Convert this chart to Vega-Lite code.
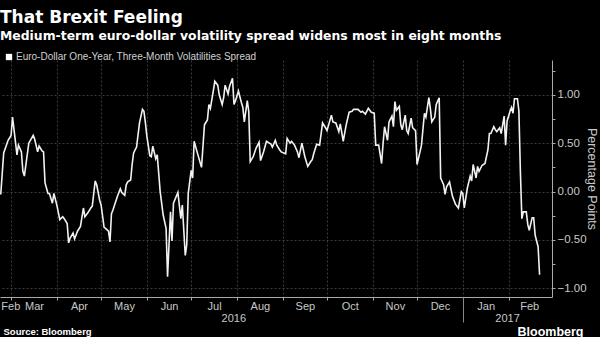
{
  "$schema": "https://vega.github.io/schema/vega-lite/v6.json",
  "width": 552,
  "height": 237,
  "autosize": "none",
  "padding": {"left": 0, "top": 60, "right": 48, "bottom": 40},
  "background": "#000000",
  "config": {
    "view": {"stroke": null},
    "axis": {"labelFont": "Liberation Sans Narrow, Liberation Sans, sans-serif", "labelColor": "#c8c8c8", "labelFontSize": 11}
  },
  "title": {
    "text": "That Brexit Feeling",
    "subtitle": "Medium-term euro-dollar volatility spread widens most in eight months",
    "anchor": "start",
    "frame": "group",
    "font": "DejaVu Sans",
    "fontSize": 17,
    "fontWeight": "bold",
    "color": "#ffffff",
    "subtitleFont": "DejaVu Sans",
    "subtitleFontSize": 12.4,
    "subtitleFontWeight": "bold",
    "subtitleColor": "#ffffff",
    "subtitlePadding": 3,
    "offset": 8.5
  },
  "data": {
    "values": [
      {"date": "2016-02-23", "value": -0.03}, {"date": "2016-02-25", "value": 0.40}, {"date": "2016-02-28", "value": 0.53},
      {"date": "2016-03-01", "value": 0.58}, {"date": "2016-03-02", "value": 0.77}, {"date": "2016-03-05", "value": 0.38},
      {"date": "2016-03-06", "value": 0.48}, {"date": "2016-03-08", "value": 0.41}, {"date": "2016-03-09", "value": 0.21},
      {"date": "2016-03-10", "value": 0.16}, {"date": "2016-03-13", "value": 0.50}, {"date": "2016-03-16", "value": 0.58},
      {"date": "2016-03-17", "value": 0.54}, {"date": "2016-03-19", "value": 0.41}, {"date": "2016-03-20", "value": 0.47},
      {"date": "2016-03-22", "value": 0.42}, {"date": "2016-03-23", "value": 0.41}, {"date": "2016-03-24", "value": 0.09},
      {"date": "2016-03-26", "value": -0.02}, {"date": "2016-03-27", "value": -0.02}, {"date": "2016-03-29", "value": -0.12},
      {"date": "2016-03-30", "value": -0.02}, {"date": "2016-04-01", "value": -0.14}, {"date": "2016-04-03", "value": -0.29},
      {"date": "2016-04-05", "value": -0.26}, {"date": "2016-04-06", "value": -0.28}, {"date": "2016-04-08", "value": -0.33},
      {"date": "2016-04-09", "value": -0.53}, {"date": "2016-04-10", "value": -0.48}, {"date": "2016-04-12", "value": -0.43},
      {"date": "2016-04-13", "value": -0.49}, {"date": "2016-04-15", "value": -0.41}, {"date": "2016-04-17", "value": -0.36},
      {"date": "2016-04-19", "value": -0.17}, {"date": "2016-04-20", "value": -0.26}, {"date": "2016-04-22", "value": -0.22},
      {"date": "2016-04-24", "value": -0.17}, {"date": "2016-04-25", "value": -0.15}, {"date": "2016-04-27", "value": 0.11},
      {"date": "2016-04-28", "value": 0.07}, {"date": "2016-04-30", "value": -0.09}, {"date": "2016-05-01", "value": -0.14},
      {"date": "2016-05-03", "value": -0.37}, {"date": "2016-05-04", "value": -0.38}, {"date": "2016-05-06", "value": -0.41},
      {"date": "2016-05-07", "value": -0.52}, {"date": "2016-05-08", "value": -0.23}, {"date": "2016-05-09", "value": -0.19},
      {"date": "2016-05-12", "value": -0.05}, {"date": "2016-05-14", "value": 0.03}, {"date": "2016-05-15", "value": -0.01},
      {"date": "2016-05-17", "value": -0.04}, {"date": "2016-05-18", "value": 0.07}, {"date": "2016-05-19", "value": 0.10},
      {"date": "2016-05-21", "value": 0.12}, {"date": "2016-05-22", "value": 0.28}, {"date": "2016-05-23", "value": 0.40},
      {"date": "2016-05-25", "value": 0.46}, {"date": "2016-05-27", "value": 0.71}, {"date": "2016-05-29", "value": 0.85},
      {"date": "2016-05-30", "value": 0.83}, {"date": "2016-05-31", "value": 0.71}, {"date": "2016-06-01", "value": 0.57},
      {"date": "2016-06-03", "value": 0.37}, {"date": "2016-06-04", "value": 0.36}, {"date": "2016-06-05", "value": 0.47},
      {"date": "2016-06-07", "value": 0.34}, {"date": "2016-06-08", "value": 0.38}, {"date": "2016-06-09", "value": 0.19},
      {"date": "2016-06-10", "value": 0.00}, {"date": "2016-06-12", "value": -0.24}, {"date": "2016-06-14", "value": -0.38},
      {"date": "2016-06-15", "value": -0.88}, {"date": "2016-06-17", "value": -0.21}, {"date": "2016-06-18", "value": -0.51},
      {"date": "2016-06-19", "value": -0.12}, {"date": "2016-06-22", "value": -0.01}, {"date": "2016-06-24", "value": -0.28},
      {"date": "2016-06-25", "value": -0.14}, {"date": "2016-06-27", "value": -0.66}, {"date": "2016-06-28", "value": -0.55},
      {"date": "2016-06-29", "value": -0.02}, {"date": "2016-07-01", "value": 0.22}, {"date": "2016-07-02", "value": 0.14},
      {"date": "2016-07-03", "value": 0.52}, {"date": "2016-07-05", "value": 0.41}, {"date": "2016-07-08", "value": 0.25},
      {"date": "2016-07-10", "value": 0.69}, {"date": "2016-07-12", "value": 0.74}, {"date": "2016-07-13", "value": 0.90},
      {"date": "2016-07-14", "value": 0.86}, {"date": "2016-07-16", "value": 1.04}, {"date": "2016-07-17", "value": 1.14},
      {"date": "2016-07-19", "value": 1.10}, {"date": "2016-07-20", "value": 1.00}, {"date": "2016-07-22", "value": 0.90},
      {"date": "2016-07-23", "value": 0.97}, {"date": "2016-07-24", "value": 1.10}, {"date": "2016-07-26", "value": 1.01},
      {"date": "2016-07-27", "value": 1.09}, {"date": "2016-07-29", "value": 1.17}, {"date": "2016-07-30", "value": 0.90},
      {"date": "2016-07-31", "value": 0.94}, {"date": "2016-08-02", "value": 1.04}, {"date": "2016-08-04", "value": 0.92},
      {"date": "2016-08-05", "value": 0.87}, {"date": "2016-08-06", "value": 0.72}, {"date": "2016-08-08", "value": 0.94},
      {"date": "2016-08-09", "value": 0.83}, {"date": "2016-08-10", "value": 0.31}, {"date": "2016-08-12", "value": 0.36},
      {"date": "2016-08-14", "value": 0.45}, {"date": "2016-08-16", "value": 0.51}, {"date": "2016-08-17", "value": 0.32},
      {"date": "2016-08-19", "value": 0.41}, {"date": "2016-08-21", "value": 0.52}, {"date": "2016-08-23", "value": 0.50},
      {"date": "2016-08-24", "value": 0.49}, {"date": "2016-08-25", "value": 0.46}, {"date": "2016-08-27", "value": 0.53},
      {"date": "2016-08-28", "value": 0.48}, {"date": "2016-08-30", "value": 0.43}, {"date": "2016-08-31", "value": 0.41},
      {"date": "2016-09-03", "value": 0.39}, {"date": "2016-09-04", "value": 0.55}, {"date": "2016-09-06", "value": 0.50},
      {"date": "2016-09-07", "value": 0.52}, {"date": "2016-09-09", "value": 0.48}, {"date": "2016-09-11", "value": 0.41},
      {"date": "2016-09-12", "value": 0.35}, {"date": "2016-09-14", "value": 0.50}, {"date": "2016-09-16", "value": 0.36},
      {"date": "2016-09-18", "value": 0.26}, {"date": "2016-09-20", "value": 0.31}, {"date": "2016-09-21", "value": 0.33},
      {"date": "2016-09-22", "value": 0.39}, {"date": "2016-09-24", "value": 0.49}, {"date": "2016-09-26", "value": 0.48},
      {"date": "2016-09-28", "value": 0.71}, {"date": "2016-09-30", "value": 0.66}, {"date": "2016-10-01", "value": 0.63},
      {"date": "2016-10-04", "value": 0.79}, {"date": "2016-10-05", "value": 0.72}, {"date": "2016-10-07", "value": 0.71},
      {"date": "2016-10-09", "value": 0.62}, {"date": "2016-10-10", "value": 0.70}, {"date": "2016-10-12", "value": 0.52},
      {"date": "2016-10-14", "value": 0.69}, {"date": "2016-10-16", "value": 0.82}, {"date": "2016-10-18", "value": 0.83},
      {"date": "2016-10-19", "value": 0.85}, {"date": "2016-10-22", "value": 0.85}, {"date": "2016-10-24", "value": 0.82},
      {"date": "2016-10-25", "value": 0.83}, {"date": "2016-10-27", "value": 0.80}, {"date": "2016-10-29", "value": 0.86},
      {"date": "2016-10-31", "value": 0.82}, {"date": "2016-11-02", "value": 0.81}, {"date": "2016-11-03", "value": 0.48},
      {"date": "2016-11-05", "value": 0.48}, {"date": "2016-11-07", "value": 0.29}, {"date": "2016-11-08", "value": 0.50},
      {"date": "2016-11-09", "value": 0.67}, {"date": "2016-11-11", "value": 0.53}, {"date": "2016-11-12", "value": 0.72},
      {"date": "2016-11-14", "value": 0.78}, {"date": "2016-11-15", "value": 0.67}, {"date": "2016-11-16", "value": 0.93},
      {"date": "2016-11-17", "value": 0.84}, {"date": "2016-11-19", "value": 0.88}, {"date": "2016-11-20", "value": 0.69},
      {"date": "2016-11-21", "value": 0.64}, {"date": "2016-11-23", "value": 0.79}, {"date": "2016-11-24", "value": 0.63},
      {"date": "2016-11-25", "value": 0.60}, {"date": "2016-11-27", "value": 0.76}, {"date": "2016-11-28", "value": 0.66},
      {"date": "2016-11-30", "value": 0.63}, {"date": "2016-12-01", "value": 0.28}, {"date": "2016-12-03", "value": 0.41},
      {"date": "2016-12-04", "value": 0.48}, {"date": "2016-12-06", "value": 0.81}, {"date": "2016-12-07", "value": 0.77},
      {"date": "2016-12-09", "value": 0.97}, {"date": "2016-12-10", "value": 0.86}, {"date": "2016-12-11", "value": 0.72},
      {"date": "2016-12-13", "value": 0.77}, {"date": "2016-12-14", "value": 0.90}, {"date": "2016-12-16", "value": 0.97},
      {"date": "2016-12-17", "value": 0.14}, {"date": "2016-12-19", "value": 0.07}, {"date": "2016-12-20", "value": -0.03},
      {"date": "2016-12-21", "value": 0.05}, {"date": "2016-12-23", "value": 0.10}, {"date": "2016-12-25", "value": -0.05},
      {"date": "2016-12-27", "value": -0.13}, {"date": "2016-12-29", "value": -0.17}, {"date": "2016-12-31", "value": 0.00},
      {"date": "2017-01-01", "value": -0.02}, {"date": "2017-01-02", "value": -0.17}, {"date": "2017-01-04", "value": 0.03},
      {"date": "2017-01-06", "value": 0.16}, {"date": "2017-01-07", "value": 0.11}, {"date": "2017-01-08", "value": 0.28},
      {"date": "2017-01-10", "value": 0.14}, {"date": "2017-01-11", "value": 0.26}, {"date": "2017-01-12", "value": 0.21},
      {"date": "2017-01-14", "value": 0.27}, {"date": "2017-01-15", "value": 0.28}, {"date": "2017-01-16", "value": 0.29},
      {"date": "2017-01-18", "value": 0.43}, {"date": "2017-01-19", "value": 0.60}, {"date": "2017-01-20", "value": 0.60},
      {"date": "2017-01-22", "value": 0.67}, {"date": "2017-01-23", "value": 0.64}, {"date": "2017-01-24", "value": 0.62},
      {"date": "2017-01-26", "value": 0.66}, {"date": "2017-01-27", "value": 0.60}, {"date": "2017-01-29", "value": 0.78},
      {"date": "2017-01-30", "value": 0.48}, {"date": "2017-01-31", "value": 0.73}, {"date": "2017-02-02", "value": 0.83},
      {"date": "2017-02-03", "value": 0.87}, {"date": "2017-02-04", "value": 0.81}, {"date": "2017-02-05", "value": 0.96},
      {"date": "2017-02-07", "value": 0.96}, {"date": "2017-02-08", "value": 0.83}, {"date": "2017-02-09", "value": 0.21},
      {"date": "2017-02-10", "value": -0.28}, {"date": "2017-02-11", "value": -0.21}, {"date": "2017-02-13", "value": -0.21},
      {"date": "2017-02-14", "value": -0.34}, {"date": "2017-02-15", "value": -0.40}, {"date": "2017-02-17", "value": -0.27},
      {"date": "2017-02-18", "value": -0.27}, {"date": "2017-02-19", "value": -0.45}, {"date": "2017-02-21", "value": -0.57},
      {"date": "2017-02-22", "value": -0.86}
    ]
  },
  "layer": [
    {
      "mark": {"type": "line", "strokeWidth": 1.6, "interpolate": "linear"},
      "encoding": {
        "x": {
          "field": "date", "type": "temporal",
          "scale": {"type": "utc", "domain": [1456142400000, 1488448800000]},
          "axis": {
            "orient": "bottom",
            "values": [1456790400000, 1459468800000, 1462060800000, 1464739200000, 1467331200000, 1470009600000, 1472688000000, 1475280000000, 1477958400000, 1480550400000, 1483228800000, 1485907200000],
            "labels": false,
            "ticks": true, "tickSize": 3, "tickColor": "#aaaaaa",
            "domain": true, "domainColor": "#aaaaaa", "domainWidth": 1,
            "grid": true, "gridColor": "#3a3a3a", "gridDash": [2, 2], "gridWidth": 1,
            "title": "Source: Bloomberg",
            "titleFont": "Liberation Sans", "titleFontSize": 9.5, "titleFontWeight": "bold", "titleColor": "#ffffff",
            "titleAlign": "left", "titleBaseline": "alphabetic", "titleAnchor": "start", "titleX": 3, "titleY": 37
          }
        },
        "y": {
          "field": "value", "type": "quantitative",
          "scale": {"domain": [-1.09, 1.36], "nice": false, "zero": false},
          "axis": {
            "orient": "right",
            "values": [-1, -0.75, -0.5, -0.25, 0, 0.25, 0.5, 0.75, 1, 1.25],
            "labelExpr": "datum.value * 2 == round(datum.value * 2) ? format(datum.value, '.2f') : ''",
            "labelFont": "Liberation Sans", "labelFontSize": 11.5, "labelColor": "#c8c8c8", "labelPadding": 2,
            "tickSize": 3, "tickColor": "#aaaaaa",
            "domain": true, "domainColor": "#aaaaaa",
            "grid": true, "gridColor": "#3a3a3a", "gridDash": [2, 2],
            "gridOpacity": {"condition": {"test": "datum.value * 2 == round(datum.value * 2)", "value": 1}, "value": 0},
            "labelOverlap": false,
            "title": "Percentage Points", "titleAngle": 90, "titleFont": "Liberation Sans", "titleFontSize": 12.5,
            "titleFontWeight": "normal", "titleColor": "#c8c8c8", "titlePadding": -2
          }
        },
        "color": {
          "datum": "Euro-Dollar One-Year, Three-Month Volatilities Spread",
          "type": "nominal",
          "scale": {"range": ["#f2f2f2"]},
          "legend": {
            "orient": "none", "legendX": 4, "legendY": -8, "title": null,
            "symbolType": "square", "symbolFillColor": "#ffffff", "symbolStrokeColor": "#ffffff", "symbolStrokeWidth": 0,
            "symbolSize": 40, "labelFont": "Liberation Sans Narrow, Liberation Sans, sans-serif", "labelFontSize": 10,
            "labelColor": "#d0d0d0", "labelOffset": 2, "padding": 0, "labelLimit": 400
          }
        }
      }
    },
    {
      "mark": {"type": "point", "opacity": 0},
      "encoding": {
        "x": {
          "field": "date", "type": "temporal",
          "scale": {"type": "utc", "domain": [1456142400000, 1488448800000]},
          "axis": {
            "orient": "bottom",
            "values": [1456747200000, 1458129600000, 1460764800000, 1463400000000, 1466035200000, 1468670400000, 1471348800000, 1473984000000, 1476619200000, 1479254400000, 1481889600000, 1484568000000, 1487116800000],
            "format": "%b",
            "labelOverlap": false, "labelFlush": false, "labelBound": false,
            "ticks": false, "domain": false, "grid": false, "labelPadding": 3,
            "title": null
          }
        }
      }
    },
    {
      "mark": {"type": "point", "opacity": 0},
      "encoding": {
        "x": {
          "field": "date", "type": "temporal",
          "scale": {"type": "utc", "domain": [1456142400000, 1488448800000]},
          "axis": {
            "orient": "bottom",
            "values": [1469800000000, 1485820800000],
            "format": "%Y",
            "labelOverlap": false, "labelFlush": false, "labelBound": false,
            "ticks": false, "domain": false, "grid": false, "labelPadding": 15,
            "title": "Bloomberg",
            "titleFont": "Liberation Sans", "titleFontSize": 12.5, "titleFontWeight": "bold", "titleColor": "#ffffff",
            "titleAlign": "right", "titleBaseline": "alphabetic", "titleAnchor": "start", "titleX": 583, "titleY": 38
          }
        }
      }
    },
    {
      "mark": {"type": "point", "opacity": 0},
      "encoding": {
        "x": {
          "field": "date", "type": "temporal",
          "scale": {"type": "utc", "domain": [1456142400000, 1488448800000]},
          "axis": {
            "orient": "bottom",
            "values": [1483228800000],
            "labels": false,
            "ticks": true, "tickSize": 25, "tickColor": "#888888",
            "domain": false, "grid": false,
            "title": null
          }
        }
      }
    }
  ],
  "resolve": {"axis": {"x": "independent"}}
}
